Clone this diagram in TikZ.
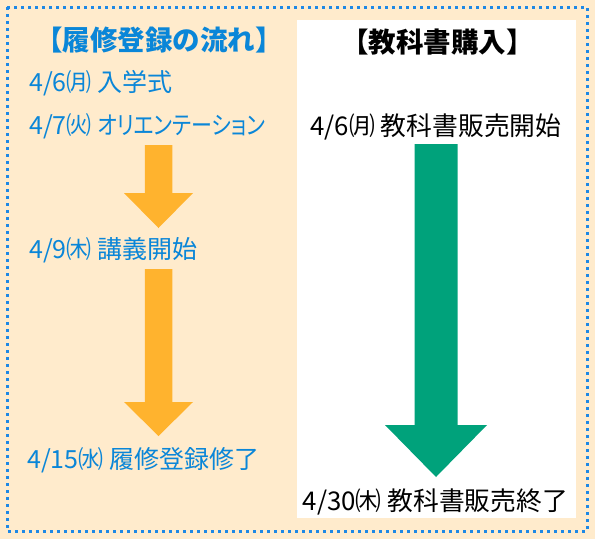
\documentclass[tikz,border=0pt]{standalone}
\usepackage{fontspec}
\usepackage{graphicx}
\newfontfamily\jp[RawFeature=+palt]{Noto Sans CJK JP}
\newfontfamily\jpfull{Noto Sans CJK JP}
\definecolor{peach}{HTML}{FFEBCC}
\definecolor{dotblue}{HTML}{1E88E5}
\definecolor{txtblue}{HTML}{0A86D8}
\definecolor{arrorange}{HTML}{FFB32E}
\definecolor{arrgreen}{HTML}{00A27B}
\newcommand\blockarrowdown[7]{% color, cx, top, shaft half width, head y, head half width, tip
  \fill[#1] (#2-#4,#3) -- (#2+#4,#3) -- (#2+#4,#5) -- (#2+#6,#5) -- (#2,#7) -- (#2-#6,#5) -- (#2-#4,#5) -- cycle;}
\begin{document}
\begin{tikzpicture}[x=1pt,y=-1pt,
  lefttitle/.style={font=\jpfull\bfseries\fontsize{27.5}{27.5}\selectfont,text=txtblue,inner sep=0pt},
  righttitle/.style={font=\jpfull\bfseries\fontsize{27.5}{27.5}\selectfont,text=black,inner sep=0pt},
  leftitem/.style={font=\jp\fontsize{25}{25}\selectfont,text=txtblue,inner sep=0pt,anchor=west},
  rightitem/.style={font=\jp\fontsize{25.8}{25.8}\selectfont,text=black,inner sep=0pt}]
\useasboundingbox (0,0) rectangle (595,539);
\fill[peach] (0,0) rectangle (595,539);
\fill[white] (297,20) rectangle (576,518);
\draw[dotblue,line width=3pt,dash pattern=on 3pt off 4pt] (7,7) rectangle (587,531);
% arrows
\blockarrowdown{arrorange}{158.5}{145}{13.75}{193}{34.5}{228}
\blockarrowdown{arrorange}{158.5}{269}{13.75}{402}{34.5}{436}
\blockarrowdown{arrgreen}{436}{144}{21.5}{425}{51}{477}
% left
\node[lefttitle] (lt) at (159,40) {【履修登録の流れ】};
\node[leftitem] (l1) at (29,83) {4/6㈪ 入学式};
\node[leftitem] (l2) at (29,126) {4/7㈫ \scalebox{0.84}[1]{オリエンテーション}};
\node[leftitem] (l3) at (29,250) {4/9㈭ 講義開始};
\node[leftitem] (l4) at (27,460) {4/15㈬ 履修登録修了};
% right
\node[righttitle] (rt) at (437.5,42) {【教科書購入】};
\node[rightitem] (r1) at (436,127) {4/6㈪ 教科書販売開始};
\node[rightitem] (r2) at (435.5,502) {4/30㈭ 教科書販売終了};
\end{tikzpicture}
\end{document}
